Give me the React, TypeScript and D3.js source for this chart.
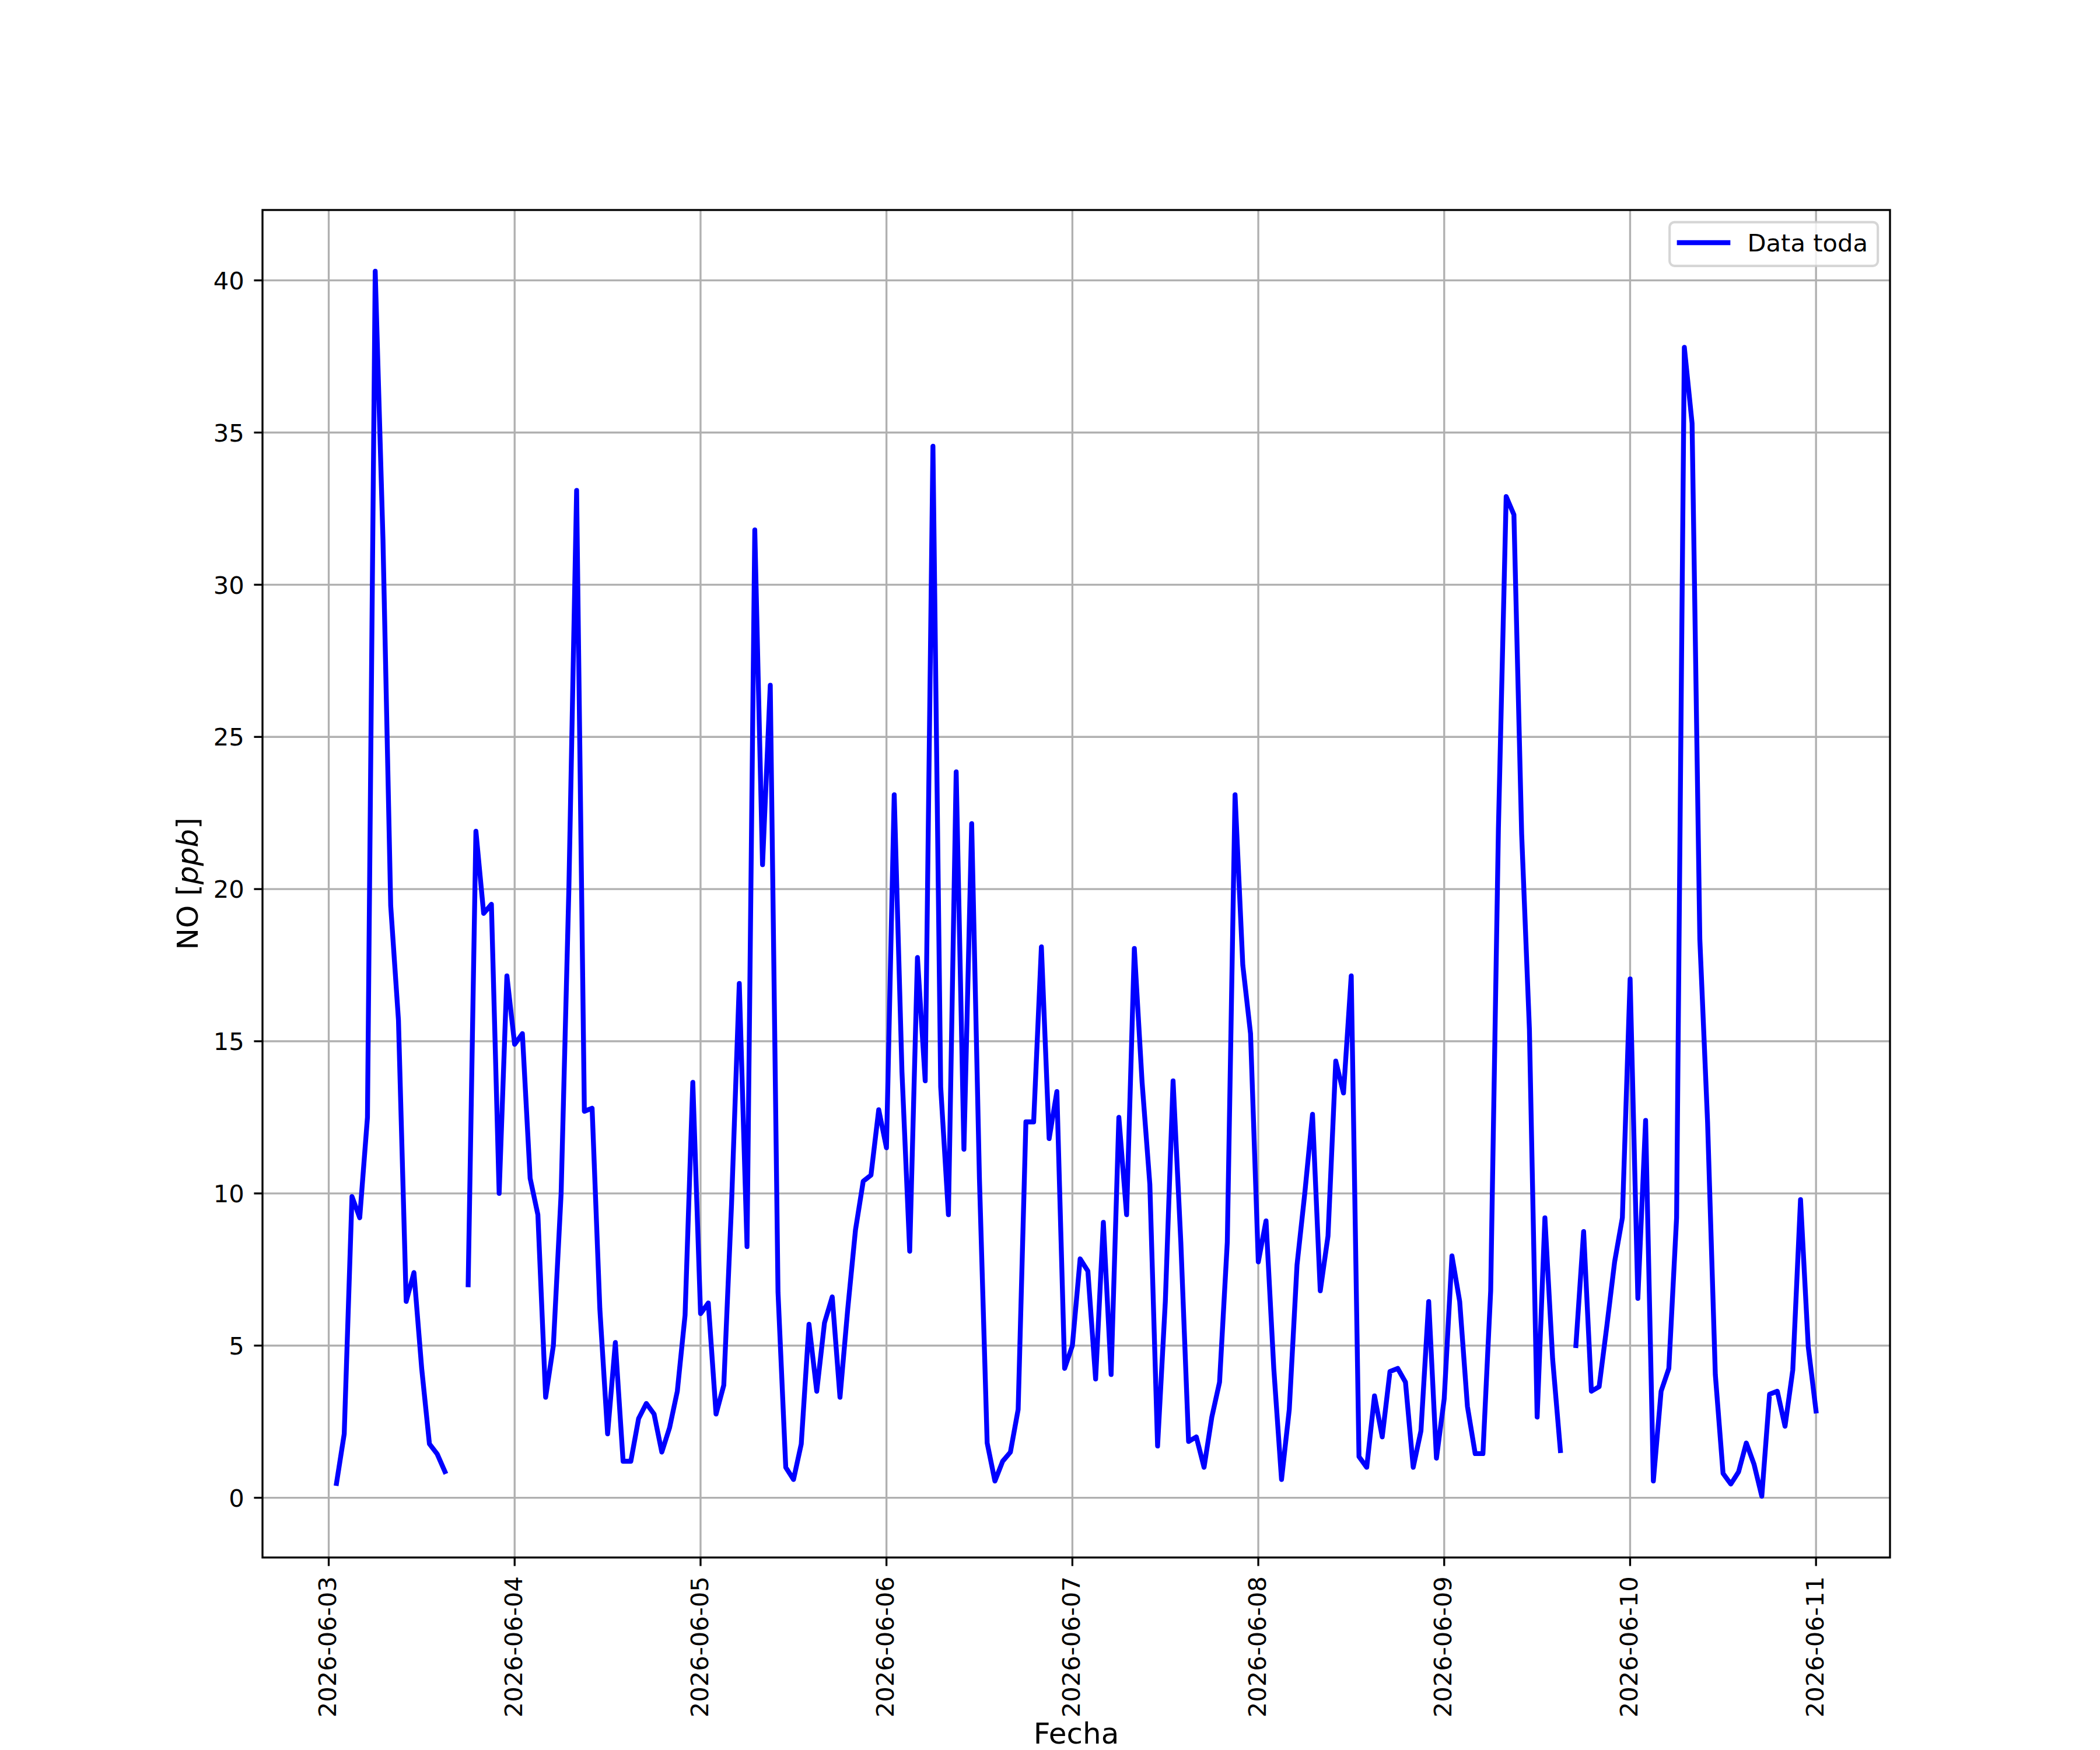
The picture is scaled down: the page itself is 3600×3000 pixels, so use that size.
import { useEffect, useRef } from "react";
import * as d3 from "d3";

// hourly NO readings, first reading at 2026-06-03 01:00, null = missing
const firstHour = "2026-06-03T01:00:00Z";

const day1 = [0.47, 2.1, 9.9, 9.2, 12.5, 40.3, 31.5, 19.45, 15.7, 6.45, 7.4, 4.25,
  1.77, 1.44, 0.86, null, null, 7.0, 21.9, 19.2, 19.5, 10.0, 17.15, 14.9];
const day2 = [15.25, 10.5, 9.3, 3.3, 5.0, 10.0, 20.0, 33.1, 12.7, 12.8, 6.2, 2.1,
  5.1, 1.2, 1.2, 2.6, 3.1, 2.75, 1.5, 2.3, 3.5, 6.0, 13.65, 6.05];
const day3 = [6.4, 2.75, 3.7, 9.65, 16.9, 8.25, 31.8, 20.8, 26.7, 6.75, 1.0, 0.6,
  1.77, 5.7, 3.5, 5.75, 6.6, 3.3, 6.2, 8.8, 10.4, 10.6, 12.75, 11.5];
const day4 = [23.1, 14.0, 8.1, 17.75, 13.7, 34.55, 13.5, 9.3, 23.85, 11.45, 22.15, 10.5,
  1.8, 0.55, 1.2, 1.5, 2.9, 12.35, 12.35, 18.1, 11.8, 13.35, 4.25, 5.0];
const day5 = [7.85, 7.45, 3.9, 9.05, 4.05, 12.5, 9.3, 18.05, 13.65, 10.3, 1.7, 6.45,
  13.7, 8.4, 1.85, 2.0, 1.0, 2.65, 3.8, 8.4, 23.1, 17.5, 15.25, 7.75];
const day6 = [9.1, 4.25, 0.6, 2.9, 7.65, 10.0, 12.6, 6.8, 8.6, 14.35, 13.3, 17.15,
  1.35, 1.0, 3.35, 2.0, 4.15, 4.25, 3.8, 1.0, 2.2, 6.45, 1.3, 3.25];
const day7 = [7.95, 6.45, 3.0, 1.45, 1.45, 6.8, 22.0, 32.9, 32.3, 21.8, 15.4, 2.65,
  9.2, 4.55, 1.55, null, 5.0, 8.75, 3.5, 3.65, 5.65, 7.75, 9.2, 17.05];
const day8 = [6.55, 12.4, 0.55, 3.5, 4.25, 9.2, 37.8, 35.3, 18.35, 12.35, 4.05, 0.8,
  0.45, 0.85, 1.8, 1.1, 0.05, 3.4, 3.5, 2.35, 4.2, 9.8, 4.95, 2.85];

const yTicks = [0, 5, 10, 15, 20, 25, 30, 35, 40];
const seriesLabel = "Data toda";
const xTitle = "Fecha";

type Point = { t: Date; v: number | null };

const App = () => {
  const ref = useRef<HTMLDivElement>(null);

  useEffect(() => {
    if (!ref.current) return;
    document.body.style.margin = "0";

    const width = 3600;
    const height = 3000;
    const left = 450;
    const right = 3240;
    const top = 360;
    const bottom = 2670;
    const font = "DejaVu Sans";
    const pt = 300 / 72;

    d3.select(ref.current).selectAll("*").remove();

    const values = [...day1, ...day2, ...day3, ...day4, ...day5, ...day6, ...day7, ...day8];
    const t0 = new Date(firstHour);
    const data: Point[] = values.map((v, i) => ({ t: d3.utcHour.offset(t0, i), v }));

    const tMin = data[0].t.getTime();
    const tMax = data[data.length - 1].t.getTime();
    const tPad = (tMax - tMin) * 0.05;
    const x = d3
      .scaleUtc()
      .domain([new Date(tMin - tPad), new Date(tMax + tPad)])
      .range([left, right]);

    const vMin = d3.min(values, (d) => d ?? undefined) ?? 0;
    const vMax = d3.max(values, (d) => d ?? undefined) ?? 1;
    const vPad = (vMax - vMin) * 0.05;
    const y = d3
      .scaleLinear()
      .domain([vMin - vPad, vMax + vPad])
      .range([bottom, top]);

    const svg = d3
      .select(ref.current)
      .append("svg")
      .attr("width", width)
      .attr("height", height)
      .style("display", "block")
      .style("background", "#fff")
      .attr("font-family", font);

    const xTicks = d3.utcDay.range(new Date("2026-06-03T00:00:00Z"), new Date("2026-06-11T12:00:00Z"));
    const fmt = d3.utcFormat("%Y-%m-%d");

    // grid
    const grid = svg.append("g").attr("stroke", "#b0b0b0").attr("stroke-width", 0.8 * pt);
    grid
      .selectAll("line.gx")
      .data(xTicks)
      .join("line")
      .attr("x1", (d) => x(d))
      .attr("x2", (d) => x(d))
      .attr("y1", top)
      .attr("y2", bottom);
    grid
      .selectAll("line.gy")
      .data(yTicks)
      .join("line")
      .attr("x1", left)
      .attr("x2", right)
      .attr("y1", (d) => y(d))
      .attr("y2", (d) => y(d));

    // series
    const line = d3
      .line<Point>()
      .defined((d) => d.v != null)
      .x((d) => x(d.t))
      .y((d) => y(d.v as number));

    svg
      .append("path")
      .datum(data)
      .attr("d", line)
      .attr("fill", "none")
      .attr("stroke", "#0000ff")
      .attr("stroke-width", 2 * pt)
      .attr("stroke-linejoin", "round")
      .attr("stroke-linecap", "square");

    // spines
    svg
      .append("rect")
      .attr("x", left)
      .attr("y", top)
      .attr("width", right - left)
      .attr("height", bottom - top)
      .attr("fill", "none")
      .attr("stroke", "#000")
      .attr("stroke-width", 0.8 * pt);

    const tickLen = 3.5 * pt;
    const tickPad = 3.5 * pt;
    const fs = 10 * pt;

    // y axis
    const yAxis = svg.append("g");
    yAxis
      .selectAll("line")
      .data(yTicks)
      .join("line")
      .attr("x1", left - tickLen)
      .attr("x2", left)
      .attr("y1", (d) => y(d))
      .attr("y2", (d) => y(d))
      .attr("stroke", "#000")
      .attr("stroke-width", 0.8 * pt);
    yAxis
      .selectAll("text")
      .data(yTicks)
      .join("text")
      .attr("x", left - tickLen - tickPad - 2)
      .attr("y", (d) => y(d) + 15.2)
      .attr("text-anchor", "end")
      .attr("font-size", fs)
      .text((d) => String(d));

    // x axis
    const xAxis = svg.append("g");
    xAxis
      .selectAll("line")
      .data(xTicks)
      .join("line")
      .attr("x1", (d) => x(d))
      .attr("x2", (d) => x(d))
      .attr("y1", bottom)
      .attr("y2", bottom + tickLen)
      .attr("stroke", "#000")
      .attr("stroke-width", 0.8 * pt);
    xAxis
      .selectAll("text")
      .data(xTicks)
      .join("text")
      .attr("transform", (d) => `translate(${x(d)},${bottom + tickLen + tickPad + 3}) rotate(-90)`)
      .attr("y", 12.7)
      .attr("text-anchor", "end")
      .attr("font-size", fs)
      .text((d) => fmt(d));

    // axis titles
    svg
      .append("text")
      .attr("x", (left + right) / 2)
      .attr("y", 2989)
      .attr("text-anchor", "middle")
      .attr("font-size", 12 * pt)
      .text(xTitle);

    const yTitle = svg
      .append("text")
      .attr("transform", `translate(339,${(top + bottom) / 2}) rotate(-90)`)
      .attr("text-anchor", "middle")
      .attr("font-size", 12 * pt);
    yTitle.append("tspan").text("NO [");
    yTitle.append("tspan").attr("font-style", "italic").text("ppb");
    yTitle.append("tspan").text("]");

    // legend
    const lgRight = right - 0.5 * fs;
    const lgTop = top + 0.5 * fs;
    const lgW = 357;
    const lgH = 75;
    const lg = svg.append("g");
    lg.append("rect")
      .attr("x", lgRight - lgW)
      .attr("y", lgTop)
      .attr("width", lgW)
      .attr("height", lgH)
      .attr("rx", 0.2 * fs)
      .attr("fill", "#fff")
      .attr("fill-opacity", 0.8)
      .attr("stroke", "#cccccc")
      .attr("stroke-opacity", 0.8)
      .attr("stroke-width", 1.0 * pt);
    const hx0 = lgRight - lgW + 0.4 * fs;
    const hy = 416;
    lg.append("line")
      .attr("x1", hx0)
      .attr("x2", hx0 + 2 * fs)
      .attr("y1", hy)
      .attr("y2", hy)
      .attr("stroke", "#0000ff")
      .attr("stroke-width", 2 * pt)
      .attr("stroke-linecap", "square");
    lg.append("text")
      .attr("x", hx0 + 2 * fs + 0.8 * fs)
      .attr("y", hy + 15)
      .attr("font-size", fs)
      .text(seriesLabel);
  }, []);

  return <div ref={ref}></div>;
};

export default App;
